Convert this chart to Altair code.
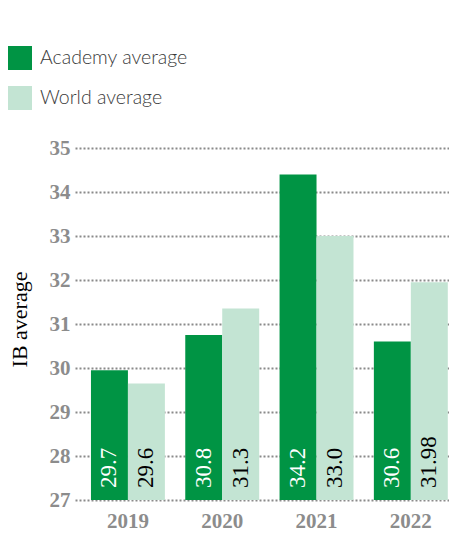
import altair as alt
import pandas as pd

years = ["2019", "2020", "2021", "2022"]
series = ["Academy average", "World average"]
academy_bar = [29.95, 30.75, 34.4, 30.6]
world_bar = [29.65, 31.35, 33.0, 31.95]
academy_label = ["29.7", "30.8", "34.2", "30.6"]
world_label = ["29.6", "31.3", "33.0", "31.98"]
y_ticks = [27, 28, 29, 30, 31, 32, 33, 34, 35]
colors = ["#009444", "#c3e4d3"]

rows = []
for i, yr in enumerate(years):
    rows.append({"year": yr, "series": series[0], "value": academy_bar[i], "label": academy_label[i], "base": 27})
    rows.append({"year": yr, "series": series[1], "value": world_bar[i], "label": world_label[i], "base": 27})
df = pd.DataFrame(rows)

x_enc = alt.X(
    "year:N",
    sort=years,
    scale=alt.Scale(paddingInner=0.216, paddingOuter=0.091, align=0.93),
    axis=alt.Axis(
        title=None, labelAngle=0, ticks=False, domain=False, labelPadding=10,
        labelFont="Liberation Serif", labelFontSize=21, labelFontWeight="bold",
        labelColor="#8c8c8c",
    ),
)
xo_enc = alt.XOffset("series:N", sort=series, scale=alt.Scale(paddingInner=0, paddingOuter=0))

bars = alt.Chart(df).mark_bar().encode(
    x=x_enc,
    xOffset=xo_enc,
    y=alt.Y(
        "value:Q",
        scale=alt.Scale(domain=[27, 35], zero=False, nice=False),
        axis=alt.Axis(
            values=y_ticks, title="IB average", ticks=False, domain=False,
            labelPadding=5, labelFont="Liberation Serif", labelFontSize=21,
            labelFontWeight="bold", labelColor="#8c8c8c",
            grid=True, gridDash=[2, 2], gridWidth=2, gridColor="#8a8a8a",
            titleFont="Liberation Serif", titleFontSize=22, titleFontWeight="normal",
            titleColor="#000000", titleX=-56, titleY=171, titleAngle=-90,
            titleBaseline="middle", titleAlign="center",
        ),
    ),
    y2=alt.Y2("base:Q"),
    color=alt.Color(
        "series:N",
        sort=series,
        scale=alt.Scale(domain=series, range=colors),
        legend=alt.Legend(
            title=None, orient="none", legendX=-67, legendY=-102, padding=0,
            symbolType="square", symbolSize=576, symbolStrokeWidth=0, symbolOpacity=1,
            labelFont="Lato", labelFontSize=19.5, labelColor="#3a3a3a", labelOffset=8,
            rowPadding=16, labelFontWeight=300,
        ),
    ),
)

labels = alt.Chart(df).mark_text(
    angle=270, align="left", baseline="middle", dx=12,
    font="Liberation Serif", fontSize=23,
).encode(
    x=alt.X("year:N", sort=years),
    xOffset=alt.XOffset("series:N", sort=series),
    y=alt.Y("base:Q"),
    text="label:N",
    color=alt.condition(alt.datum.series == "Academy average", alt.value("#ffffff"), alt.value("#000000")),
)

chart = alt.layer(bars, labels).properties(
    width=374, height=352,
    autosize=alt.AutoSizeParams(type="none"),
    padding={"left": 67, "top": 140, "right": 0, "bottom": 31},
).configure_view(stroke=None)

chart.save("out.html", embed_options={"renderer": "svg", "actions": False})
